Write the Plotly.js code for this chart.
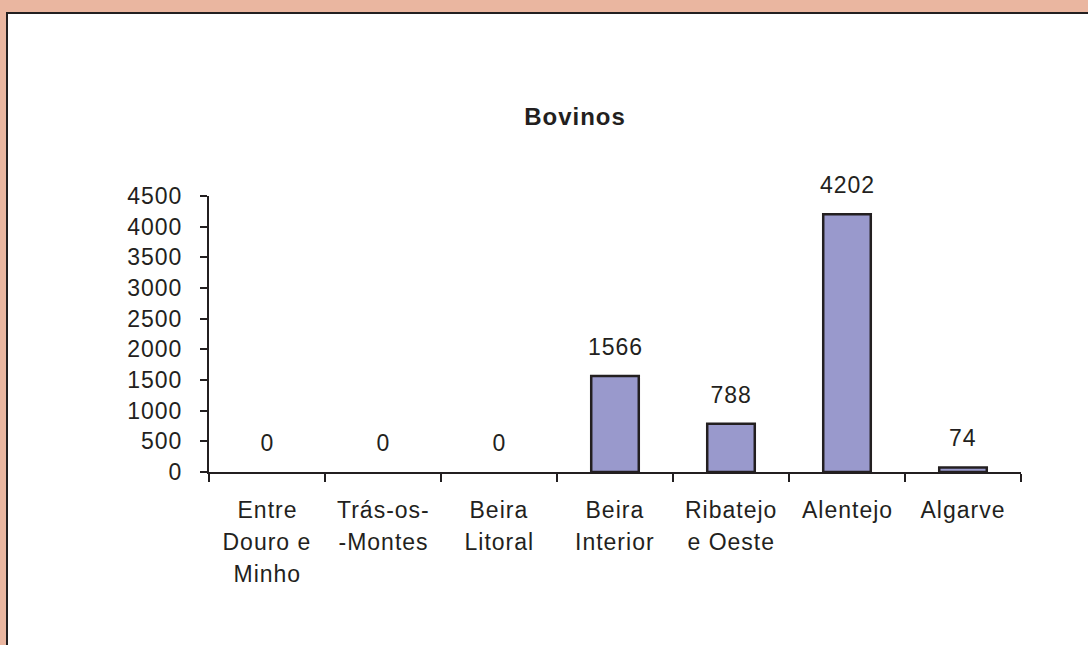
<!DOCTYPE html>
<html>
<head>
<meta charset="utf-8">
<script src="https://cdn.plot.ly/plotly-3.0.1.min.js"></script>
<style>
  html, body { margin: 0; padding: 0; width: 1088px; height: 645px; overflow: hidden; background: #EAB6A0; }
  #frame { position: absolute; left: 6px; top: 12px; width: 1200px; height: 800px; border: 2px solid #231F20; background: #ffffff; box-sizing: border-box; }
  #chart { position: absolute; left: 0; top: 0; width: 1088px; height: 645px; }
  #chart text { letter-spacing: 1px; }
</style>
</head>
<body>
<div id="frame"></div>
<div id="chart"></div>
<script>
const categories = ["Entre Douro e Minho", "Trás-os-Montes", "Beira Litoral", "Beira Interior", "Ribatejo e Oeste", "Alentejo", "Algarve"];
const tickLabelLines = [["Entre", "Douro e", "Minho"], ["Trás-os-", "-Montes"], ["Beira", "Litoral"], ["Beira", "Interior"], ["Ribatejo", "e Oeste"], ["Alentejo"], ["Algarve"]];
const values = [0, 0, 0, 1566, 788, 4202, 74];
const yTicks = [0, 500, 1000, 1500, 2000, 2500, 3000, 3500, 4000, 4500];

const ink = "#231F20";
const font = "Liberation Sans, Arial, sans-serif";
const fs = 23;

const annotations = [];
categories.forEach((c, i) => {
  annotations.push({
    x: c, y: values[i], xref: "x", yref: "y",
    text: String(values[i]), showarrow: false,
    yanchor: "bottom", yshift: 14,
    font: {family: font, size: fs, color: ink}
  });
  tickLabelLines[i].forEach((line, j) => {
    annotations.push({
      x: c, y: 0, xref: "x", yref: "y",
      text: line, showarrow: false,
      yanchor: "middle", yshift: -38 - 32 * j,
      font: {family: font, size: fs, color: ink}
    });
  });
});

const data = [{
  type: "bar",
  x: categories,
  y: values,
  width: 0.41,
  marker: {color: "#9999CC", line: {color: ink, width: values.map(v => v > 0 ? 2.5 : 0)}},
  hoverinfo: "skip"
}];

const layout = {
  width: 1088, height: 645,
  paper_bgcolor: "rgba(0,0,0,0)",
  plot_bgcolor: "rgba(0,0,0,0)",
  margin: {l: 209, r: 67, t: 196, b: 173, pad: 0},
  showlegend: false,
  title: {
    text: "<b>Bovinos</b>",
    font: {family: font, size: 24, color: ink},
    xref: "container", yref: "container",
    x: 575 / 1088, xanchor: "center",
    y: 1 - 117 / 645, yanchor: "middle"
  },
  xaxis: {
    type: "category",
    showticklabels: false,
    ticks: "outside", ticklen: 8, tickwidth: 2, tickcolor: ink,
    tickson: "boundaries",
    showline: true, linecolor: ink, linewidth: 2,
    showgrid: false, zeroline: false,
    fixedrange: true
  },
  yaxis: {
    range: [0, 4500],
    tickvals: yTicks,
    ticktext: yTicks.map(String),
    ticks: "outside", ticklen: 7, tickwidth: 2, tickcolor: ink,
    ticklabelstandoff: 13,
    tickfont: {family: font, size: fs, color: ink},
    showline: true, linecolor: ink, linewidth: 2,
    showgrid: false, zeroline: false,
    fixedrange: true
  },
  annotations: annotations
};

Plotly.newPlot("chart", data, layout, {staticPlot: true, displayModeBar: false});
</script>
</body>
</html>
